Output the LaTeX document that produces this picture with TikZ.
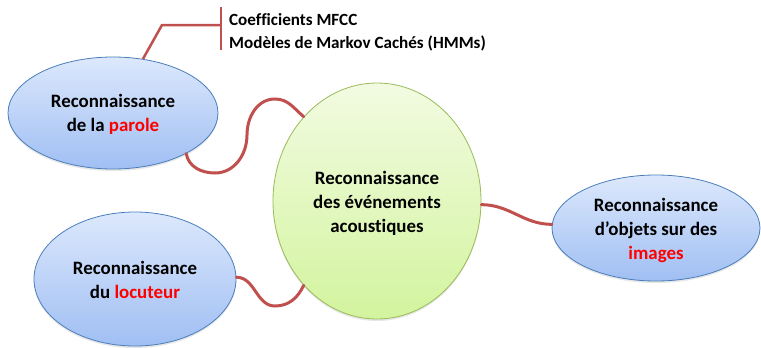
\documentclass[tikz,border=0pt]{standalone}
\usepackage{fontspec}
\setmainfont{Carlito}[Ligatures=NoCommon]
\usetikzlibrary{shapes.geometric,shadows}
\definecolor{bluetop}{HTML}{DCE8FC}
\definecolor{bluebot}{HTML}{A0BFF3}
\definecolor{blueedge}{HTML}{4A7EBB}
\definecolor{greentop}{HTML}{F2FBE2}
\definecolor{greenbot}{HTML}{D3F49E}
\definecolor{greenedge}{HTML}{9BBB59}
\definecolor{linkred}{HTML}{C0504D}
\definecolor{hlred}{HTML}{FF0000}
\tikzset{
  bubble/.style={ellipse, draw=blueedge, line width=0.8pt, top color=bluetop, bottom color=bluebot,
    align=center, inner sep=0pt, font=\bfseries\fontsize{18.9}{24}\selectfont,
    drop shadow={opacity=0.2, shadow xshift=0pt, shadow yshift=-2pt}},
  centerbubble/.style={bubble, draw=greenedge, top color=greentop, bottom color=greenbot},
  link/.style={draw=linkred, line width=3pt},
  toplink/.style={draw=linkred, line width=2.5pt},
  hl/.style={text=hlred}
}
\begin{document}
\begin{tikzpicture}[x=1pt,y=-1pt]
\useasboundingbox (0,0) rectangle (761,348);
\node[bubble, minimum width=210pt, minimum height=112pt] (parole) at (113,113)
  {\rule{0pt}{16pt}Reconnaissance\\de la \textcolor{hlred}{parole}};
\node[centerbubble, minimum width=208pt, minimum height=236pt] (central) at (377,201)
  {\rule{0pt}{18pt}Reconnaissance\\des événements\\acoustiques};
\node[bubble, minimum width=202pt, minimum height=134pt] (locuteur) at (135,279)
  {\rule{0pt}{16pt}Reconnaissance\\du \textcolor{hlred}{locuteur}};
\node[bubble, minimum width=208pt, minimum height=106pt] (images) at (656,228)
  {\rule{0pt}{18pt}Reconnaissance\\d’objets sur des\\\textcolor{hlred}{images}};
\node[anchor=west, align=left, inner sep=0pt, font=\bfseries\fontsize{17.1}{23}\selectfont] (notes) at (229,32)
  {Coefficients MFCC\\Modèles de Markov Cachés (HMMs)};
\coordinate (bend) at (162,25);
\coordinate (brk) at (221,25);
\coordinate (brktop) at (221,7);
\coordinate (brkbot) at (221,50);
\draw[toplink] (parole.61) -- (bend) -- (brk);
\draw[toplink] (brktop) -- (brkbot);
\draw[link, line cap=round] (parole.-29) to[out=-80,in=180] (215,173) to[out=0,in=-90] (247,135)
  to[out=90,in=180] (275,99) to[out=0,in=140] (central.131);
\draw[link, line cap=round] (central.-2) to[out=0,in=180] (images.178);
\draw[link, line cap=round] (locuteur.1) to[out=0,in=180] (275,306) to[out=0,in=-115] (central.229);
\end{tikzpicture}
\end{document}
